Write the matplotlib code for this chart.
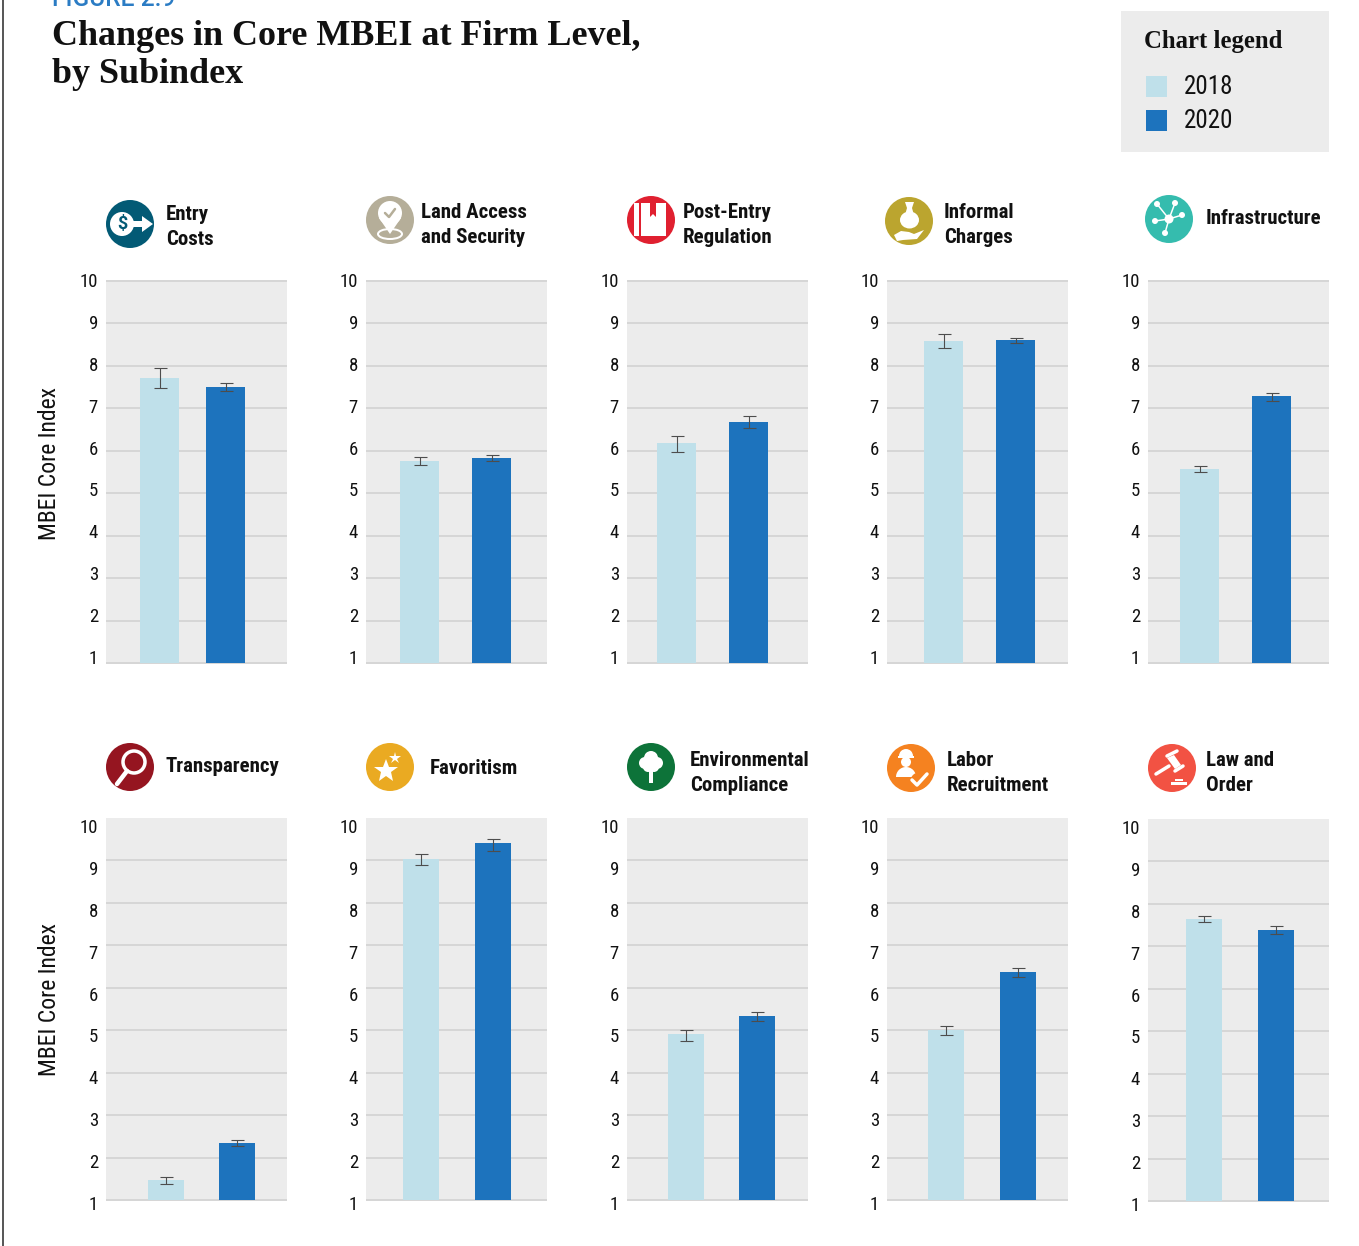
import matplotlib
matplotlib.use('Agg')
from matplotlib import pyplot as plt
from matplotlib.patches import Circle, Ellipse, Polygon, Rectangle, Wedge
from matplotlib.transforms import ScaledTranslation

subindexes = ['Entry\nCosts', 'Land Access\nand Security', 'Post-Entry\nRegulation',
              'Informal\nCharges', 'Infrastructure', 'Transparency', 'Favoritism',
              'Environmental\nCompliance', 'Labor\nRecruitment', 'Law and\nOrder']
years = ['2018', '2020']
values_2018 = [7.72, 5.76, 6.19, 8.59, 5.58, 1.47, 9.04, 4.92, 5.00, 7.65]
low_2018 = [7.49, 5.67, 5.98, 8.43, 5.50, 1.38, 8.90, 4.75, 4.89, 7.58]
high_2018 = [7.96, 5.86, 6.35, 8.74, 5.65, 1.54, 9.16, 5.00, 5.10, 7.72]
values_2020 = [7.51, 5.83, 6.68, 8.62, 7.30, 2.34, 9.40, 5.34, 6.38, 7.39]
low_2020 = [7.42, 5.76, 6.54, 8.55, 7.18, 2.27, 9.23, 5.22, 6.26, 7.30]
high_2020 = [7.60, 5.90, 6.83, 8.66, 7.37, 2.42, 9.51, 5.43, 6.47, 7.49]
y_ticks = [1, 2, 3, 4, 5, 6, 7, 8, 9, 10]

# layout, in pixels of the 1359x1246 picture
W, H = 1359, 1246
panel_left = [106, 366, 627, 887, 1148] * 2
panel_width = 181
row_top = [281] * 5 + [818] * 4 + [819]
row_bottom = [663] * 5 + [1200] * 4 + [1201]
first_bar = [159.5, 419.5, 676.5, 943.5, 1199.5, 166, 421, 686, 946, 1204]
bar_gap = [66, 72, 72, 72, 72, 71, 72, 71, 72, 72]
bar_px = [39] * 5 + [36] * 5
title_xy = [(166, 227), (421, 225), (683, 225), (944, 225), (1206, 219),
            (166, 767), (430, 769), (690, 773), (947, 773), (1206, 773)]
icon_xy = [(130, 224), (390, 220), (651, 220), (909, 221), (1169, 219),
           (130, 767), (390, 767), (651, 767), (911, 768), (1172, 768)]
icon_colors = ['#035a75', '#b5ae99', '#e02030', '#bba52f', '#35bcae',
               '#951520', '#eaaa22', '#0d7339', '#f58220', '#f25243']

LIGHT = '#bfe0ea'
DARK = '#1d73bd'
PANEL = '#ececec'
GRID = '#d6d6d6'
NARROW = ['Roboto Condensed', 'Liberation Sans Narrow', 'Roboto']
SERIF = ['Liberation Serif']
PX = 72 / 100  # points per pixel at dpi 100

plt.rcParams['font.family'] = NARROW
fig = plt.figure(figsize=(W / 100, H / 100), dpi=100, facecolor='white')


def draw_panel(i):
    left, top, bottom = panel_left[i], row_top[i], row_bottom[i]
    ax = fig.add_axes([left / W, 1 - bottom / H, panel_width / W, (bottom - top) / H])
    ax.set_facecolor(PANEL)
    gap = bar_gap[i]
    ax.set_xlim((left - first_bar[i]) / gap, (left + panel_width - first_bar[i]) / gap)
    ax.set_ylim(1, 10)
    for x, val, lo, hi, col in [(0, values_2018[i], low_2018[i], high_2018[i], LIGHT),
                                (1, values_2020[i], low_2020[i], high_2020[i], DARK)]:
        ax.bar(x, val - 1, bottom=1, width=bar_px[i] / gap, color=col, zorder=2)
        ax.errorbar(x, val, yerr=[[val - lo], [hi - val]], color='#4d4d4d', lw=0.8,
                    capsize=6.5 * PX, capthick=0.8, zorder=3)
    for s in ax.spines.values():
        s.set_visible(False)
    ax.set_xticks([])
    ax.set_yticks(y_ticks)
    ax.set_yticklabels([str(t) for t in y_ticks])
    ax.tick_params(axis='y', length=0, pad=5.8, labelsize=13.5, labelcolor='#111111')
    ax.yaxis.grid(True, color=GRID, lw=2 * PX, zorder=1)
    ax.set_axisbelow(True)
    for tick, t in zip(ax.yaxis.get_major_ticks(), y_ticks):
        tick.gridline.set_clip_on(False)
        tick.gridline.set_solid_capstyle('butt')
        # the labels in the source do not sit quite on their gridlines
        off = (-6 + (t - 1) * 0.55) if i < 5 else (3 + (t - 1) * 0.55)
        tick.label1.set_transform(tick.label1.get_transform()
                                  + ScaledTranslation(0, -off / 100, fig.dpi_scale_trans))
        if i >= 5 and t == 10:
            tick.gridline.set_visible(False)
    return ax


for i in range(len(subindexes)):
    draw_panel(i)

# everything that is not a chart goes on one overlay in pixel coordinates
ov = fig.add_axes([0, 0, 1, 1], zorder=5)
ov.set_xlim(0, W)
ov.set_ylim(H, 0)
ov.axis('off')
ov.patch.set_alpha(0)

ov.plot([2.5, 2.5], [0, H], color='#222222', lw=1.5 * PX)
ov.text(52, 6, 'FIGURE 2.9', color='#2b7cc4', fontsize=17.7, family=['Roboto'],
        fontweight='medium', va='baseline', ha='left')
ov.text(52, 45, 'Changes in Core MBEI at Firm Level,', family=SERIF, fontweight='bold',
        fontsize=25.9, color='#111111', va='baseline')
ov.text(52, 83, 'by Subindex', family=SERIF, fontweight='bold', fontsize=25.9,
        color='#111111', va='baseline')

ov.add_patch(Rectangle((1121, 11), 208, 141, color=PANEL, lw=0))
ov.text(1144, 48, 'Chart legend', family=SERIF, fontweight='bold', fontsize=17.8,
        color='#111111', va='baseline')
for y, col, lab in [(86, LIGHT, years[0]), (120, DARK, years[1])]:
    ov.add_patch(Rectangle((1146, y - 10.5), 21, 21, color=col, lw=0))
    ov.text(1184, y + 1.5, lab, fontsize=18, color='#111111', va='center')

for i, lab in enumerate(subindexes):
    x, y = title_xy[i]
    ov.text(x, y, lab, fontsize=15, fontweight='bold', color='#111111', va='center',
            ha='left', linespacing=1.38)
for y in (463, 1000):
    ov.text(50, y, 'MBEI Core Index', rotation=90, fontsize=17, color='#111111',
            va='center', ha='center')


def white(*pts):
    ov.add_patch(Polygon(pts, closed=True, color='white', lw=0))


def line(pts, lw, col='white', cap='round'):
    ov.plot([p[0] for p in pts], [p[1] for p in pts], color=col, lw=lw * PX,
            solid_capstyle=cap, solid_joinstyle='round')


def icon(i):
    cx, cy = icon_xy[i]
    col = icon_colors[i]
    ov.add_patch(Circle((cx, cy), 24, color=col, lw=0))
    if i == 0:
        ov.add_patch(Circle((cx - 8, cy), 12, color='white', lw=0))
        ov.text(cx - 8, cy, '$', color=col, fontsize=13, family=['Roboto'], ha='center',
                va='center', fontweight='bold')
        white((cx, cy - 3), (cx + 12, cy - 3), (cx + 12, cy - 8), (cx + 23, cy),
              (cx + 12, cy + 8), (cx + 12, cy + 3), (cx, cy + 3))
    elif i == 1:
        ov.add_patch(Ellipse((cx, cy + 14), 24, 10, fill=False, ec='white', lw=2 * PX))
        ov.add_patch(Circle((cx, cy - 7), 12, color='white', lw=0))
        white((cx - 11, cy - 2), (cx + 11, cy - 2), (cx, cy + 14))
        line([(cx - 5, cy - 7), (cx - 1, cy - 3), (cx + 5, cy - 11)], 2.5, col)
    elif i == 2:
        ov.add_patch(Rectangle((cx - 17, cy - 17), 5, 33, color='white', lw=0))
        ov.add_patch(Rectangle((cx - 10, cy - 17), 25, 33, color='white', lw=0))
        ov.add_patch(Polygon([(cx - 1, cy - 17), (cx + 5, cy - 17), (cx + 5, cy - 3),
                              (cx + 2, cy - 6), (cx - 1, cy - 3)], color=col, lw=0))
    elif i == 3:
        ov.add_patch(Ellipse((cx + 0.5, cy - 1), 19, 17, color='white', lw=0))
        white((cx - 4, cy - 19), (cx + 5, cy - 19), (cx + 3, cy - 13), (cx + 5, cy - 6),
              (cx - 4, cy - 6), (cx - 2, cy - 13))
        white((cx - 15, cy + 14), (cx - 8, cy + 10), (cx, cy + 11), (cx + 5, cy + 13),
              (cx + 15, cy + 9), (cx + 8, cy + 18), (cx - 6, cy + 19), (cx - 12, cy + 20))
    elif i == 4:
        for dx, dy in [(-12, -15), (6, -16), (13, -4), (-14, 2), (-4, 14)]:
            line([(cx, cy), (cx + dx, cy + dy)], 1.5)
            ov.add_patch(Circle((cx + dx, cy + dy), 3, color='white', lw=0))
        ov.add_patch(Circle((cx, cy), 4.5, color='white', lw=0))
    elif i == 5:
        ov.add_patch(Circle((cx + 4, cy - 5), 11, fill=False, ec='white', lw=3.5 * PX))
        line([(cx - 3, cy + 4), (cx - 13, cy + 17)], 4.5)
    elif i == 6:
        ov.plot([cx - 4.5], [cy + 4], marker='*', ms=25 * PX, color='white', mew=0)
        ov.plot([cx + 4.5], [cy - 9], marker='*', ms=12 * PX, color='white', mew=0)
    elif i == 7:
        for dx, dy, r in [(0, -9, 7), (-6, -4, 6), (6, -4, 6), (-3, 0, 5), (3, 0, 5)]:
            ov.add_patch(Circle((cx + dx, cy + dy), r, color='white', lw=0))
        ov.add_patch(Rectangle((cx - 2, cy + 2), 4, 14, color='white', lw=0))
    elif i == 8:
        ov.add_patch(Wedge((cx - 5, cy - 12), 7, 180, 360, color='white', lw=0))
        ov.add_patch(Rectangle((cx - 13, cy - 12), 16, 2, color='white', lw=0))
        ov.add_patch(Circle((cx - 5, cy - 6), 5, color='white', lw=0))
        ov.add_patch(Wedge((cx - 5, cy + 9), 10, 180, 360, color='white', lw=0))
        ov.add_patch(Circle((cx + 8, cy + 13), 8.5, color=col, lw=0))
        line([(cx + 1, cy + 12), (cx + 6, cy + 17), (cx + 16, cy + 6)], 3.5)
    elif i == 9:
        line([(cx - 16, cy + 6), (cx - 3, cy - 2)], 3.5)
        white((cx - 5, cy - 10), (cx + 2, cy - 13), (cx + 9, cy - 3), (cx + 3, cy + 1))
        line([(cx - 5, cy - 12), (cx + 5, cy - 17)], 3.5)
        line([(cx + 3, cy + 3), (cx + 11, cy - 2)], 3.5)
        ov.add_patch(Rectangle((cx + 3, cy + 11), 8, 2, color='white', lw=0))
        ov.add_patch(Rectangle((cx - 1, cy + 14), 16, 3, color='white', lw=0))


for i in range(len(subindexes)):
    icon(i)

fig.savefig('out.png', dpi=100, facecolor='white')
